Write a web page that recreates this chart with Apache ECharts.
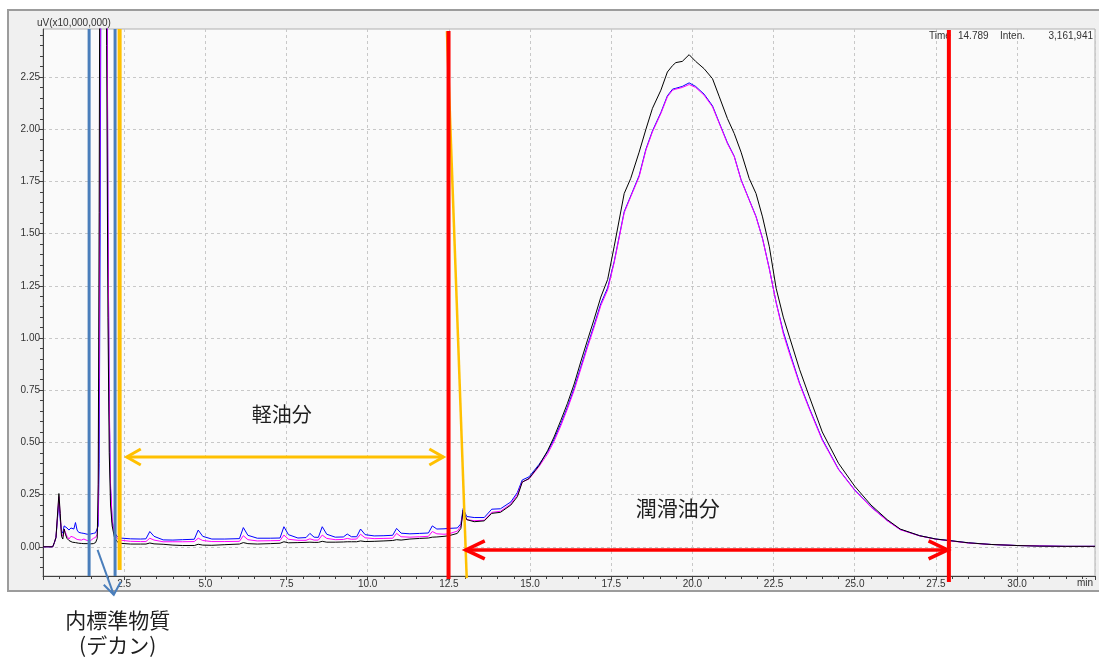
<!DOCTYPE html>
<html><head><meta charset="utf-8">
<script src="https://cdn.jsdelivr.net/npm/echarts@6/dist/echarts.min.js"></script>
<style>html,body{margin:0;padding:0;background:#fff;}#c{width:1099px;height:657px;}</style>
</head><body><div id="c"></div>
<script>
// ---- data (time in min, intensity in uV x10,000,000) ----
const times = [
  0, 0.3, 0.35, 0.4, 0.44, 0.49, 0.53, 0.57, 0.61, 0.65,
  0.69, 0.74, 0.8, 0.86, 0.9, 0.95, 1.0, 1.05, 1.1, 1.18,
  1.26, 1.36, 1.46, 1.55, 1.62, 1.67, 1.7, 1.73, 1.76, 1.8,
  1.86, 1.92, 1.96, 2.0, 2.04, 2.08, 2.13, 2.2, 2.28, 2.36,
  2.4, 2.7, 3.0, 3.17, 3.29, 3.42, 3.7, 4.0, 4.3, 4.66,
  4.78, 4.92, 5.2, 5.6, 6.05, 6.17, 6.31, 6.6, 7.0, 7.3,
  7.42, 7.56, 7.85, 8.1, 8.22, 8.35, 8.48, 8.6, 8.74, 9.0,
  9.25, 9.37, 9.5, 9.66, 9.78, 9.92, 10.2, 10.5, 10.77, 10.89,
  11.03, 11.3, 11.6, 11.87, 11.99, 12.13, 12.35,
  12.5, 12.76, 12.87, 12.94, 13.05, 13.28, 13.59, 13.82, 14.09, 14.41,
  14.61, 14.76, 14.97, 15.28, 15.54, 15.74, 15.95, 16.15, 16.36, 16.56,
  16.77, 16.97, 17.18, 17.39,
  17.59, 17.9, 18.1, 18.36, 18.57, 18.77, 19.03, 19.23, 19.39, 19.49,
  19.69, 19.9, 20.1, 20.36, 20.62, 20.83, 21.08, 21.29, 21.5, 21.75,
  21.96, 22.16, 22.37, 22.58,
  22.8, 23.0, 23.3, 23.6, 24.0, 24.5, 25.0, 25.5, 26.0, 26.4,
  27.0, 27.5, 27.9, 28.5, 29.2, 30.0, 30.7, 31.5, 32.4
];
const blueVals = [
  0, 0, 0.02, 0.045, 0.05, 0.22, 0.13, 0.075, 0.065, 0.1,
  0.108, 0.09, 0.08, 0.09, 0.096, 0.085, 0.116, 0.08, 0.069, 0.066,
  0.064, 0.06, 0.061, 0.064, 0.067, 0.075, 0.1, 0.4, 1.5, 3.6,
  5.8, 5.2, 3.4, 1.6, 0.65, 0.28, 0.12, 0.07, 0.05, 0.042,
  0.04, 0.038, 0.037, 0.038, 0.073, 0.05, 0.033, 0.032, 0.034, 0.036,
  0.08, 0.05, 0.037, 0.037, 0.039, 0.092, 0.055, 0.041, 0.041, 0.042,
  0.096, 0.058, 0.042, 0.044, 0.064, 0.046, 0.045, 0.096, 0.06, 0.046,
  0.047, 0.061, 0.048, 0.048, 0.085, 0.058, 0.052, 0.053, 0.055, 0.088,
  0.065, 0.062, 0.064, 0.066, 0.1, 0.085, 0.086,
  0.088, 0.09, 0.11, 0.183, 0.145, 0.14, 0.14, 0.18, 0.182, 0.215,
  0.26, 0.32, 0.335, 0.395, 0.455, 0.515, 0.59, 0.668, 0.76, 0.86,
  0.965, 1.06, 1.165, 1.24,
  1.365, 1.605, 1.68, 1.778, 1.905, 1.992, 2.08, 2.16, 2.192, 2.196,
  2.205, 2.222, 2.205, 2.168, 2.112, 2.03, 1.935, 1.87, 1.758, 1.662,
  1.582, 1.477, 1.332, 1.17,
  1.03, 0.93, 0.785, 0.665, 0.515, 0.372, 0.272, 0.192, 0.126, 0.083,
  0.053, 0.037, 0.03, 0.019, 0.011, 0.006, 0.004, 0.002, 0.002
];
const magentaVals = [
  0, 0, 0.02, 0.045, 0.05, 0.24, 0.15, 0.06, 0.05, 0.085,
  0.07, 0.05, 0.037, 0.05, 0.053, 0.045, 0.043, 0.035, 0.029, 0.032,
  0.037, 0.03, 0.029, 0.04, 0.045, 0.06, 0.15, 0.8, 2.4, 4.2,
  5.8, 5.0, 3.2, 1.6, 0.7, 0.3, 0.13, 0.065, 0.04, 0.032,
  0.03, 0.026, 0.025, 0.025, 0.041, 0.032, 0.024, 0.024, 0.024, 0.025,
  0.041, 0.03, 0.025, 0.025, 0.026, 0.053, 0.034, 0.028, 0.029, 0.03,
  0.056, 0.036, 0.031, 0.031, 0.038, 0.032, 0.032, 0.056, 0.04, 0.034,
  0.035, 0.04, 0.036, 0.037, 0.06, 0.043, 0.039, 0.04, 0.041, 0.064,
  0.048, 0.046, 0.048, 0.05, 0.073, 0.062, 0.06,
  0.062, 0.075, 0.1, 0.17, 0.13, 0.125, 0.127, 0.165, 0.17, 0.205,
  0.25, 0.31, 0.325, 0.385, 0.445, 0.505, 0.58, 0.66, 0.75, 0.85,
  0.955, 1.05, 1.155, 1.23,
  1.36, 1.6, 1.676, 1.772, 1.9, 1.987, 2.075, 2.155, 2.187, 2.192,
  2.2, 2.214, 2.2, 2.163, 2.107, 2.027, 1.931, 1.868, 1.756, 1.66,
  1.58, 1.475, 1.33, 1.17,
  1.02, 0.92, 0.78, 0.66, 0.51, 0.37, 0.27, 0.19, 0.125, 0.082,
  0.052, 0.036, 0.029, 0.018, 0.011, 0.006, 0.004, 0.002, 0.002
];
const blackVals = [
  0, 0, 0.02, 0.045, 0.05, 0.255, 0.16, 0.05, 0.037, 0.085,
  0.06, 0.04, 0.03, 0.025, 0.022, 0.02, 0.02, 0.018, 0.017, 0.016,
  0.015, 0.015, 0.014, 0.015, 0.02, 0.04, 0.3, 1.6, 3.6, 5.5,
  6.0, 4.2, 2.4, 1.1, 0.45, 0.2, 0.1, 0.045, 0.025, 0.017,
  0.015, 0.013, 0.013, 0.013, 0.018, 0.014, 0.012, 0.008, 0.006, 0.006,
  0.012, 0.008, 0.007, 0.01, 0.013, 0.02, 0.015, 0.013, 0.015, 0.017,
  0.024, 0.019, 0.02, 0.021, 0.022, 0.021, 0.021, 0.026, 0.022, 0.022,
  0.023, 0.024, 0.024, 0.024, 0.028, 0.025, 0.026, 0.028, 0.03, 0.034,
  0.032, 0.037, 0.04, 0.042, 0.046, 0.047, 0.05,
  0.053, 0.064, 0.088, 0.175, 0.13, 0.12, 0.124, 0.16, 0.165, 0.2,
  0.24, 0.31, 0.327, 0.39, 0.46, 0.526, 0.606, 0.686, 0.78, 0.885,
  0.99, 1.088, 1.196, 1.28,
  1.437, 1.692, 1.764, 1.89, 2.0, 2.1, 2.187, 2.274, 2.305, 2.319,
  2.325, 2.357, 2.325, 2.29, 2.242, 2.155, 2.051, 1.979, 1.89, 1.764,
  1.692, 1.58, 1.437, 1.238,
  1.1, 1.0, 0.85, 0.72, 0.55, 0.4, 0.29, 0.2, 0.13, 0.085,
  0.053, 0.037, 0.03, 0.019, 0.011, 0.006, 0.003, 0.002, 0.002
];
const xTickValues = [2.5, 5, 7.5, 10, 12.5, 15, 17.5, 20, 22.5, 25, 27.5, 30];
const xTickLabels = ['2.5', '5.0', '7.5', '10.0', '12.5', '15.0', '17.5', '20.0', '22.5', '25.0', '27.5', '30.0'];
const yTickValues = [0, 0.25, 0.5, 0.75, 1.0, 1.25, 1.5, 1.75, 2.0, 2.25];
const yTickLabels = ['0.00', '0.25', '0.50', '0.75', '1.00', '1.25', '1.50', '1.75', '2.00', '2.25'];
const yMinorTicks = [-0.1, -0.05, 0.05, 0.1, 0.15, 0.2, 0.3, 0.35, 0.4, 0.45, 0.55, 0.6, 0.65, 0.7,
  0.8, 0.85, 0.9, 0.95, 1.05, 1.1, 1.15, 1.2, 1.3, 1.35, 1.4, 1.45, 1.55, 1.6, 1.65, 1.7,
  1.8, 1.85, 1.9, 1.95, 2.05, 2.1, 2.15, 2.2, 2.3, 2.35, 2.4, 2.45];
const seriesNames = ['blue', 'magenta', 'black'];
const seriesColors = ['#0000ff', '#ff00ff', '#000000'];

// annotation anchors in data units (time, intensity)
const ann = {
  istd1: 1.42, istd2: 2.22, lightStart: 2.36, lubeStart: 12.49, lubeEnd: 27.9,
  slantTop: [12.44, 2.47], slantBottom: [13.05, -0.15],
  lightArrow: [2.58, 12.33, 0.43], lubeArrow: [13.02, 27.86, -0.015],
  lightLabel: [7.35, 0.632], lubeLabel: [19.55, 0.187],
  istdArrowFrom: [1.68, -0.015], istdArrowTo: [2.18, -0.23],
  istdLabel1: [2.3, -0.352], istdLabel2: [2.3, -0.47]
};

const FONT = '"Liberation Sans", Arial, sans-serif';
const JFONT = '"Noto Sans CJK JP", sans-serif';
const chart = echarts.init(document.getElementById('c'), null, { renderer: 'canvas' });

const mk = (vals) => times.map((t, i) => [t, vals[i]]);
const valsList = [blueVals, magentaVals, blackVals];

chart.setOption({
  animation: false,
  backgroundColor: '#ffffff',
  grid: { left: 43, right: 4, top: 29, bottom: 81, show: true, backgroundColor: '#fafafa', borderColor: '#b0b0b0', borderWidth: 1 },
  xAxis: {
    type: 'value', min: 0, max: 32.4, interval: 2.5,
    axisLine: { onZero: false, lineStyle: { color: '#404040', width: 1 } },
    axisTick: { length: 4, lineStyle: { color: '#404040' } },
    minorTick: { show: true, splitNumber: 5, length: 3, lineStyle: { color: '#404040' } },
    axisLabel: {
      color: '#333', fontSize: 10, fontFamily: FONT, margin: 3,
      formatter: (v) => { const i = xTickValues.findIndex(x => Math.abs(x - v) < 1e-6); return i >= 0 ? xTickLabels[i] : ''; }
    },
    splitLine: { show: true, lineStyle: { color: '#c8c8c8', type: [3, 3] } }
  },
  yAxis: [{
    type: 'value', min: -0.14, max: 2.48, position: 'left',
    axisLine: { show: true, onZero: false, lineStyle: { color: '#404040' } },
    axisTick: { show: true, customValues: yTickValues, length: 4, lineStyle: { color: '#404040' } },
    axisLabel: {
      customValues: yTickValues, color: '#333', fontSize: 10, fontFamily: FONT, margin: 3,
      formatter: (v) => { const i = yTickValues.findIndex(x => Math.abs(x - v) < 1e-6); return i >= 0 ? yTickLabels[i] : ''; }
    },
    splitLine: { show: true, lineStyle: { color: '#c8c8c8', type: [3, 3] } }
  }, {
    type: 'value', min: -0.14, max: 2.48, position: 'left', offset: 0,
    axisLine: { show: false },
    axisTick: { show: true, customValues: yMinorTicks, length: 3, lineStyle: { color: '#404040' } },
    axisLabel: { show: false },
    splitLine: { show: false }
  }],
  series: seriesNames.map((n, k) => ({
    name: n, type: 'line', data: mk(valsList[k]), symbol: 'none', clip: true,
    yAxisIndex: 0, lineStyle: { color: seriesColors[k], width: 1 }, z: 2 + k
  }))
});

const P = (t, v) => chart.convertToPixel({ xAxisIndex: 0, yAxisIndex: 0 }, [t, v]);
const topY = P(0, 2.48)[1];
const botY = P(0, -0.14)[1];

function vline(t, y1, y2, color, w) {
  const x = P(t, 0)[0];
  return { type: 'line', z: 20, shape: { x1: x, y1: y1, x2: x, y2: y2 }, style: { stroke: color, lineWidth: w } };
}
function dblArrow(a, color, w, dx, dy) {
  const p1 = P(a[0], a[2]), p2 = P(a[1], a[2]);
  return [
    { type: 'line', z: 20, shape: { x1: p1[0], y1: p1[1], x2: p2[0], y2: p2[1] }, style: { stroke: color, lineWidth: w } },
    { type: 'polyline', z: 20, shape: { points: [[p1[0] + dx, p1[1] - dy], [p1[0], p1[1]], [p1[0] + dx, p1[1] + dy]] }, style: { stroke: color, lineWidth: w, fill: null } },
    { type: 'polyline', z: 20, shape: { points: [[p2[0] - dx, p2[1] - dy], [p2[0], p2[1]], [p2[0] - dx, p2[1] + dy]] }, style: { stroke: color, lineWidth: w, fill: null } }
  ];
}
function label(pos, text, size) {
  const p = P(pos[0], pos[1]);
  return { type: 'text', z: 30, x: p[0], y: p[1], style: { text: text, fill: '#1e1e1e', font: size + 'px ' + JFONT, align: 'center', verticalAlign: 'middle' } };
}

const BLUE = '#4a7ebb', ORANGE = '#ffc000', RED = '#ff0000';
const sTop = P(ann.slantTop[0], ann.slantTop[1]);
const sBot = P(ann.slantBottom[0], ann.slantBottom[1]);
const aFrom = P(ann.istdArrowFrom[0], ann.istdArrowFrom[1]);
const aTo = P(ann.istdArrowTo[0], ann.istdArrowTo[1]);

const elements = [
  { type: 'rect', z: -10, shape: { x: 8, y: 10, width: 1100, height: 581 }, style: { fill: '#f0f0f0', stroke: '#9c9c9c', lineWidth: 2 } },
  { type: 'text', z: 30, x: 37, y: 23, style: { text: 'uV(x10,000,000)', fill: '#333', font: '10px ' + FONT, align: 'left', verticalAlign: 'middle' } },
  { type: 'text', z: 30, x: 1093, y: 583, style: { text: 'min', fill: '#333', font: '10px ' + FONT, align: 'right', verticalAlign: 'middle' } },
  { type: 'text', z: 1, x: 929, y: 36, style: { text: 'Time', fill: '#333', font: '10px ' + FONT, align: 'left', verticalAlign: 'middle' } },
  { type: 'text', z: 1, x: 958, y: 36, style: { text: '14.789', fill: '#333', font: '10px ' + FONT, align: 'left', verticalAlign: 'middle' } },
  { type: 'text', z: 1, x: 1000, y: 36, style: { text: 'Inten.', fill: '#333', font: '10px ' + FONT, align: 'left', verticalAlign: 'middle' } },
  { type: 'text', z: 1, x: 1093, y: 36, style: { text: '3,161,941', fill: '#333', font: '10px ' + FONT, align: 'right', verticalAlign: 'middle' } },
  vline(ann.istd1, topY, botY, BLUE, 3),
  vline(ann.istd2, topY, botY, BLUE, 3),
  vline(ann.lightStart, topY, botY - 6, ORANGE, 4),
  { type: 'line', z: 19, shape: { x1: sTop[0], y1: sTop[1], x2: sBot[0], y2: sBot[1] }, style: { stroke: ORANGE, lineWidth: 2.5 } },
  vline(ann.lubeStart, topY + 2, botY + 3, RED, 4),
  vline(ann.lubeEnd, topY + 1, botY + 6, RED, 4),
  ...dblArrow(ann.lightArrow, ORANGE, 3, 14, 8),
  ...dblArrow(ann.lubeArrow, RED, 3.5, 19, 9),
  { type: 'line', z: 20, shape: { x1: aFrom[0], y1: aFrom[1], x2: aTo[0], y2: aTo[1] }, style: { stroke: BLUE, lineWidth: 2 } },
  { type: 'polyline', z: 20, shape: { points: [[aTo[0] - 10, aTo[1] - 10], [aTo[0], aTo[1]], [aTo[0] + 7, aTo[1] - 13]] }, style: { stroke: BLUE, lineWidth: 2, fill: null } },
  label(ann.lightLabel, '軽油分', 20),
  label(ann.lubeLabel, '潤滑油分', 21),
  label(ann.istdLabel1, '内標準物質', 21),
  label(ann.istdLabel2, '(デカン)', 21)
];
chart.setOption({ graphic: { elements: elements } });
</script>
</body></html>
